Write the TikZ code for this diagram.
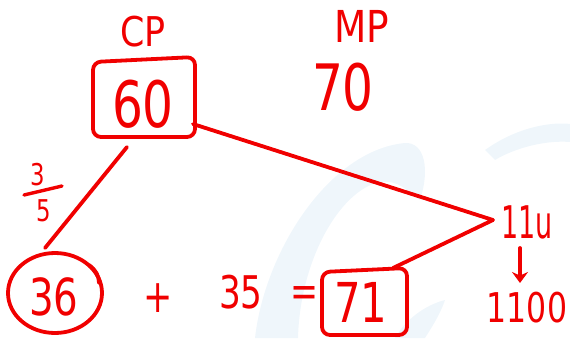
\documentclass[tikz,border=0pt]{standalone}
\usepackage{fontspec}
\setmainfont{DejaVu Sans}
\newfontfamily\handfont[FakeStretch=0.76]{DejaVu Sans}
\newfontfamily\labelfont[FakeStretch=0.85]{DejaVu Sans}
\newfontfamily\thinfont[FakeStretch=0.6]{DejaVu Sans}
\newfontfamily\midfont[FakeStretch=0.77]{DejaVu Sans}
\usetikzlibrary{arrows.meta}
\definecolor{ink}{RGB}{240,0,0}
\definecolor{wm}{RGB}{239,246,251}
\tikzset{
  hw/.style={text=ink, inner sep=0pt},
  pen/.style={draw=ink, line width=3.8pt, line cap=round, line join=round},
  boxed/.style={pen, rounded corners=8pt},
}
\begin{document}
\begin{tikzpicture}[x=1pt,y=-1pt]
\useasboundingbox (0,0) rectangle (570,338);
% faint watermark
\fill[wm] (255,338) .. controls (265,250) and (330,150) .. (405,143)
  .. controls (425,142) and (430,170) .. (420,200)
  .. controls (405,190) and (400,180) .. (380,182)
  .. controls (340,190) and (300,260) .. (298,338) -- cycle;
\fill[wm] (485,150) .. controls (520,125) and (555,122) .. (570,124) -- (570,142) .. controls (545,140) and (515,148) .. (495,160) -- cycle;
\fill[wm] (395,338) .. controls (405,320) and (425,305) .. (445,300) .. controls (440,315) and (430,330) .. (425,338) -- cycle;
% top row
\node[hw, font=\labelfont\fontsize{41}{41}\selectfont] (cp) at (143,32) {CP};
\node[hw, font=\labelfont\fontsize{44}{44}\selectfont] (mp) at (362,26) {MP};
\node[hw, font=\handfont\fontsize{64}{64}\selectfont] (sixty) at (143,104) {60};
\draw[boxed] (93,62) -- (195,57) -- (195,137) -- (93,137) -- cycle;
\coordinate (boxbot) at (127,147);
\coordinate (boxright) at (193,124);
\node[hw, font=\handfont\fontsize{64}{64}\selectfont] (seventy) at (343,87) {70};
% fraction 3/5
\node[hw, font=\handfont\fontsize{30}{30}\selectfont] (three) at (38,175) {3};
\node[hw, font=\handfont\fontsize{30}{30}\selectfont] (five) at (44,211) {5};
\coordinate (barl) at (24,195);
\coordinate (barr) at (62,186);
\draw[pen, line width=3.4pt] (barl) -- (barr);
% bottom row
\node[hw, font=\handfont\fontsize{51}{51}\selectfont] (n36) at (54,297) {36};
\draw[pen] (55,293) ellipse (47pt and 40pt);
\draw[pen] (89,265) .. controls (96,270) and (99,276) .. (99,283);
\coordinate (circtop) at (45,248);
\node[hw, font=\handfont\fontsize{46}{46}\selectfont] (plus) at (158,298) {+};
\node[hw, font=\handfont\fontsize{45}{45}\selectfont] (n35) at (241,292) {35};
\node[hw, font=\handfont\fontsize{44}{44}\selectfont] (eq) at (305,297) {=};
\node[hw, font=\handfont\fontsize{55}{55}\selectfont] (n71) at (361,302) {71};
\draw[boxed] (322,272) -- (407,268) -- (407,335) -- (322,335) -- cycle;
\coordinate (box71top) at (393,268);
\node[hw, font=\thinfont\fontsize{45}{45}\selectfont] (u11) at (527,222) {11u};
\node[hw, font=\midfont\fontsize{41}{41}\selectfont] (n1100) at (527,308) {1100};
\coordinate (apex) at (493,220);
% connectors
\draw[pen] (boxbot) -- (circtop);
\draw[pen] (boxright) -- (apex) -- (box71top);
\coordinate (arrtop) at (520,248);
\coordinate (arrbot) at (520,283);
\draw[pen, -{Stealth[length=11pt,width=16pt]}] (arrtop) -- (arrbot);
\end{tikzpicture}
\end{document}
